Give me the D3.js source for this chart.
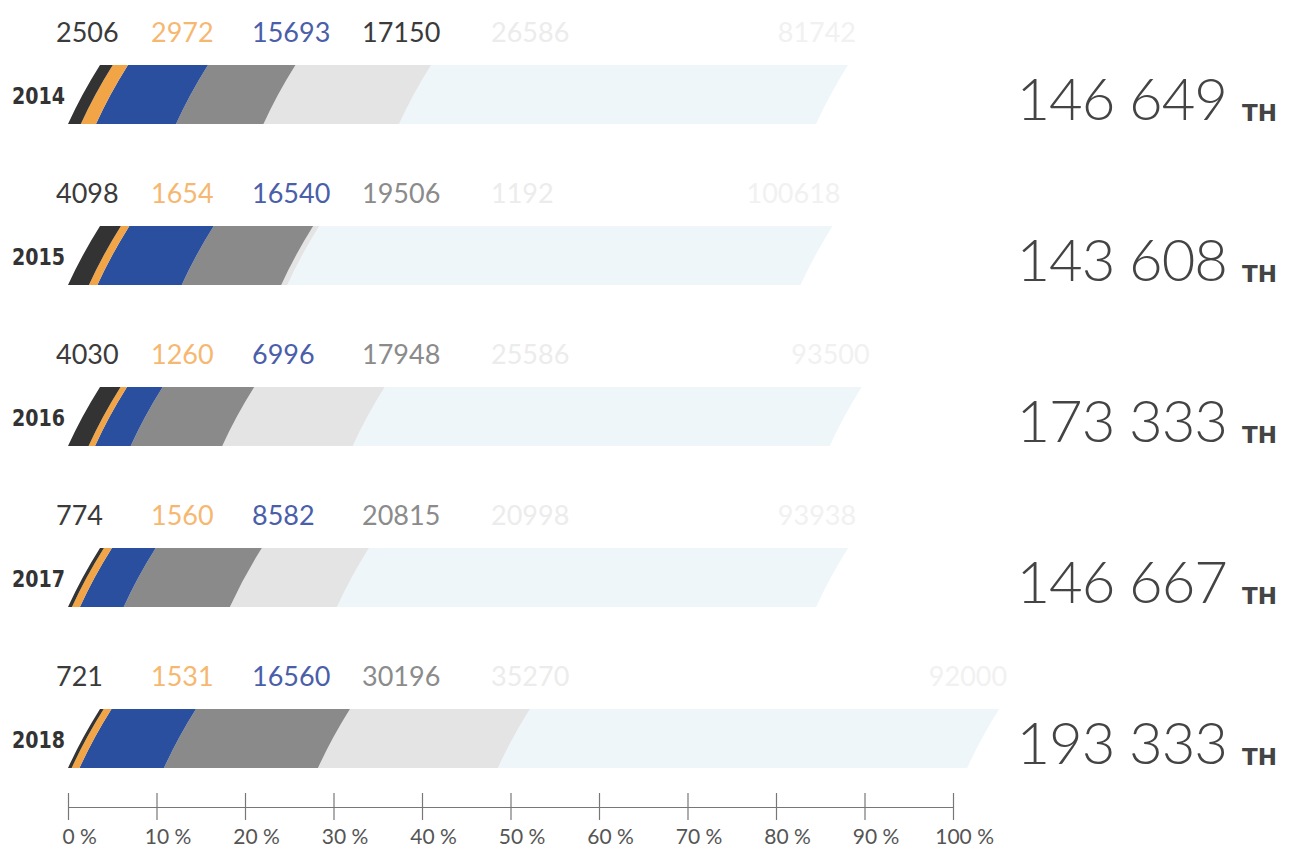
<!DOCTYPE html>
<html><head><meta charset="utf-8">
<script src="https://cdn.jsdelivr.net/npm/d3@7"></script>
<style>body{margin:0;background:#fff}svg{display:block}</style>
</head><body>
<script>
// ---- data ----
const years = ["2014", "2015", "2016", "2017", "2018"];
const totalLabels = ["146 649", "143 608", "173 333", "146 667", "193 333"];
const unitLabel = "ТН";
const seriesDark = [2506, 4098, 4030, 774, 721];
const seriesOrange = [2972, 1654, 1260, 1560, 1531];
const seriesBlue = [15693, 16540, 6996, 8582, 16560];
const seriesGray = [17150, 19506, 17948, 20815, 30196];
const seriesLightGray = [26586, 1192, 25586, 20998, 35270];
const seriesLightBlue = [81742, 100618, 93500, 93938, 92000];
const axisTicks = [0, 10, 20, 30, 40, 50, 60, 70, 80, 90, 100];

const series = [seriesDark, seriesOrange, seriesBlue, seriesGray, seriesLightGray, seriesLightBlue];
const fills = ["#333333", "#f2a547", "#2b4f9f", "#8a8a8a", "#e4e4e4", "#eef6f9"];
const labelFills = ["#3b3b3b", "#f6b871", "#4a5ea9", "#8b8b8b", "#ececec", "#f1f1f1"];
const labelCols = [56, 151, 252, 362, 491];

const W = 1289, H = 855;
const svg = d3.select("body").append("svg").attr("width", W).attr("height", H);

const x = d3.scaleLinear().domain([0, 173500]).range([68, 953]);
const xp = d3.scaleLinear().domain([0, 100]).range([68, 953]);
const y = d3.scalePoint().domain(years).range([65, 709]);
const barH = 59, skew = 32;

function seg(x0, x1, yt) {
  const yb = yt + barH;
  return `M${x0},${yb} Q${x0 + skew * 0.42},${yt + barH * 0.5} ${x0 + skew},${yt} L${x1 + skew},${yt} Q${x1 + skew * 0.42},${yt + barH * 0.5} ${x1},${yb} Z`;
}

years.forEach((yr, i) => {
  const yt = y(yr);
  const g = svg.append("g");
  let cum = 0;
  const segs = series.map((s, k) => {
    const a = cum; cum += s[i];
    return {k, a, b: cum, v: s[i]};
  });
  g.selectAll("path").data(segs.slice().reverse()).join("path")
    .attr("d", d => seg(x(d.a), x(d.b), yt))
    .attr("fill", d => fills[d.k]);

  // value labels
  segs.forEach(d => {
    const isLast = d.k === 5;
    g.append("text")
      .attr("x", isLast ? x(d.b) + skew + 8 : labelCols[d.k])
      .attr("y", yt - 23)
      .attr("text-anchor", isLast ? "end" : "start")
      .attr("font-family", "Lato, 'Open Sans', sans-serif")
      .attr("font-size", 27)
      .attr("fill", d.k === 3 && i === 0 ? "#3b3b3b" : labelFills[d.k])
      .text(d.v);
  });

  // year label
  g.append("text")
    .attr("x", 12).attr("y", yt + barH / 2 + 9)
    .attr("font-family", "'DejaVu Sans Condensed', 'DejaVu Sans', sans-serif")
    .attr("font-weight", "bold").attr("font-size", 23)
    .attr("textLength", 53).attr("lengthAdjust", "spacingAndGlyphs")
    .attr("fill", "#333").text(yr);

  // total
  g.append("text")
    .attr("x", 1227).attr("y", yt + 55)
    .attr("text-anchor", "end")
    .attr("font-family", "Lato, Roboto, sans-serif")
    .attr("font-weight", 300).attr("font-size", 58)
    .attr("letter-spacing", -1)
    .attr("fill", "#444").text(totalLabels[i]);
  g.append("text")
    .attr("x", 1242).attr("y", yt + 56)
    .attr("font-family", "'DejaVu Sans', sans-serif")
    .attr("font-weight", "bold").attr("font-size", 23)
    .attr("fill", "#444").text(unitLabel);
});

// axis
const axisY = 807;
const ax = svg.append("g").attr("transform", `translate(0,${axisY})`)
  .call(d3.axisBottom(xp).tickValues(axisTicks).tickSize(0).tickSizeOuter(0).tickFormat(d => d + " %"));
ax.select(".domain").attr("stroke", "#777").attr("stroke-width", 1.2);
ax.selectAll(".tick line").attr("y1", -14).attr("y2", 13).attr("stroke", "#777").attr("stroke-width", 1.2);
ax.selectAll(".tick text")
  .attr("font-family", "Lato, 'Open Sans', sans-serif")
  .attr("font-size", 21).attr("fill", "#555")
  .attr("text-anchor", "start").attr("y", 37).attr("dy", 0)
  .each(function(d) {
    const numW = this.getSubStringLength(0, String(d).length);
    d3.select(this).attr("x", -numW / 2);
  });
</script>
</body></html>
